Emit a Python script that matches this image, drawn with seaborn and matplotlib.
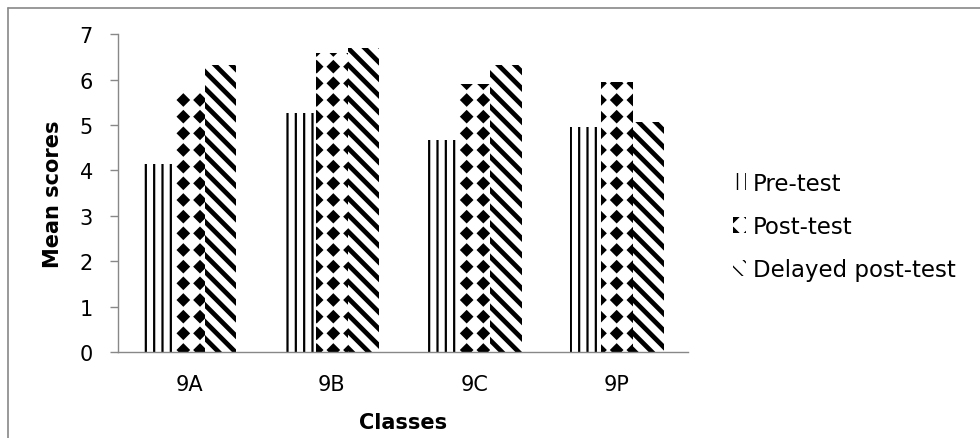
import matplotlib
matplotlib.use("Agg")
import numpy as np
import matplotlib.pyplot as plt
import matplotlib.hatch as mhatch
from matplotlib.path import Path
import seaborn as sns
import pandas as pd
from matplotlib.patches import Patch
from matplotlib.lines import Line2D

categories = ['9A', '9B', '9C', '9P']
series_names = ['Pre-test', 'Post-test', 'Delayed post-test']
pre_test = [4.13, 5.26, 4.66, 4.95]
post_test = [5.76, 6.59, 5.91, 5.94]
delayed_post_test = [6.32, 6.69, 6.32, 5.06]
y_ticks = [0, 1, 2, 3, 4, 5, 6, 7]


# square grid of filled diamonds, used for the '.' hatch symbol
class DiamondGrid(mhatch.HatchPatternBase):
    def __init__(self, hatch, density):
        self.num_rows = int(hatch.count('.') * density)
        n = self.num_rows
        self.num_shapes = (n + 1) * (n + 1) if n else 0
        self.shape = np.array([[0, 1], [1, 0], [0, -1], [-1, 0], [0, 1]], float)
        self.num_vertices = self.num_shapes * len(self.shape)

    def set_vertices_and_codes(self, vertices, codes):
        n = self.num_rows
        off = 1.0 / n
        sv = self.shape * off * 0.34
        sc = [Path.MOVETO, Path.LINETO, Path.LINETO, Path.LINETO, Path.CLOSEPOLY]
        k = len(self.shape)
        i = 0
        for r in range(n + 1):
            for c in range(n + 1):
                vertices[i:i + k] = sv + [c * off, r * off]
                codes[i:i + k] = sc
                i += k


mhatch._hatch_types = [DiamondGrid if t is mhatch.SmallFilledCircles else t
                       for t in mhatch._hatch_types]

rows = []
for name, vals in zip(series_names, [pre_test, post_test, delayed_post_test]):
    for c, v in zip(categories, vals):
        rows.append({'Class': c, 'Score': v, 'Test': name})
df = pd.DataFrame(rows)

sns.set_theme(style='white')
plt.rcParams['font.family'] = ['DejaVu Sans']
plt.rcParams['text.color'] = 'black'
plt.rcParams['axes.labelcolor'] = 'black'

fig = plt.figure(figsize=(9.8, 4.39), dpi=100)
ax = fig.add_axes([0.1204, 0.196, 0.582, 0.724])

sns.barplot(data=df, x='Class', y='Score', hue='Test', order=categories,
            hue_order=series_names, palette=['white'] * 3, width=0.66,
            saturation=1, errorbar=None, legend=False, ax=ax)

hatches = ['||', '.', '\\\\']
hlw = [1.6, 1.2, 3.4]


def style(p, h, lw):
    p.set_facecolor('white')
    p.set_edgecolor('black')
    p.set_linewidth(0)
    p.set_hatch(h)
    if hasattr(p, 'set_hatch_linewidth'):
        p.set_hatch_linewidth(lw)
    else:
        p._hatch_linewidth = lw


for cont, h, lw in zip(ax.containers, hatches, hlw):
    for p in cont:
        style(p, h, lw)

ax.set_ylim(0, 7)
ax.set_yticks(y_ticks)
ax.set_xlim(-0.5, 3.5)
ax.set_ylabel('Mean scores', fontsize=15, fontweight='bold', labelpad=12)
ax.set_xlabel('Classes', fontsize=15, fontweight='bold', labelpad=13)
ax.tick_params(axis='y', which='both', left=True, length=6, width=1,
               color='#888888', labelcolor='black', labelsize=15, pad=12)
ax.tick_params(axis='x', bottom=False, labelsize=15, labelcolor='black', pad=10)
for s in ['top', 'right']:
    ax.spines[s].set_visible(False)
for s in ['left', 'bottom']:
    ax.spines[s].set_color('#888888')
    ax.spines[s].set_linewidth(1)

handles = []
for h, lw in zip(hatches, hlw):
    hp = Patch(facecolor='white', edgecolor='black', linewidth=0, hatch=h)
    style(hp, h, lw)
    handles.append(hp)
fig.legend(handles, series_names, loc='center left', bbox_to_anchor=(0.727, 0.482),
           frameon=False, fontsize=16.5, handlelength=0.55, handleheight=0.75,
           handletextpad=0.3, labelspacing=0.88)

# outer chart border
fig.add_artist(Line2D([8 / 980, 8 / 980], [0, 1 - 9 / 439], transform=fig.transFigure,
                      color='#888888', linewidth=1.2))
fig.add_artist(Line2D([8 / 980, 1], [1 - 9 / 439, 1 - 9 / 439], transform=fig.transFigure,
                      color='#888888', linewidth=1.2))

fig.savefig('out.png', dpi=100)
